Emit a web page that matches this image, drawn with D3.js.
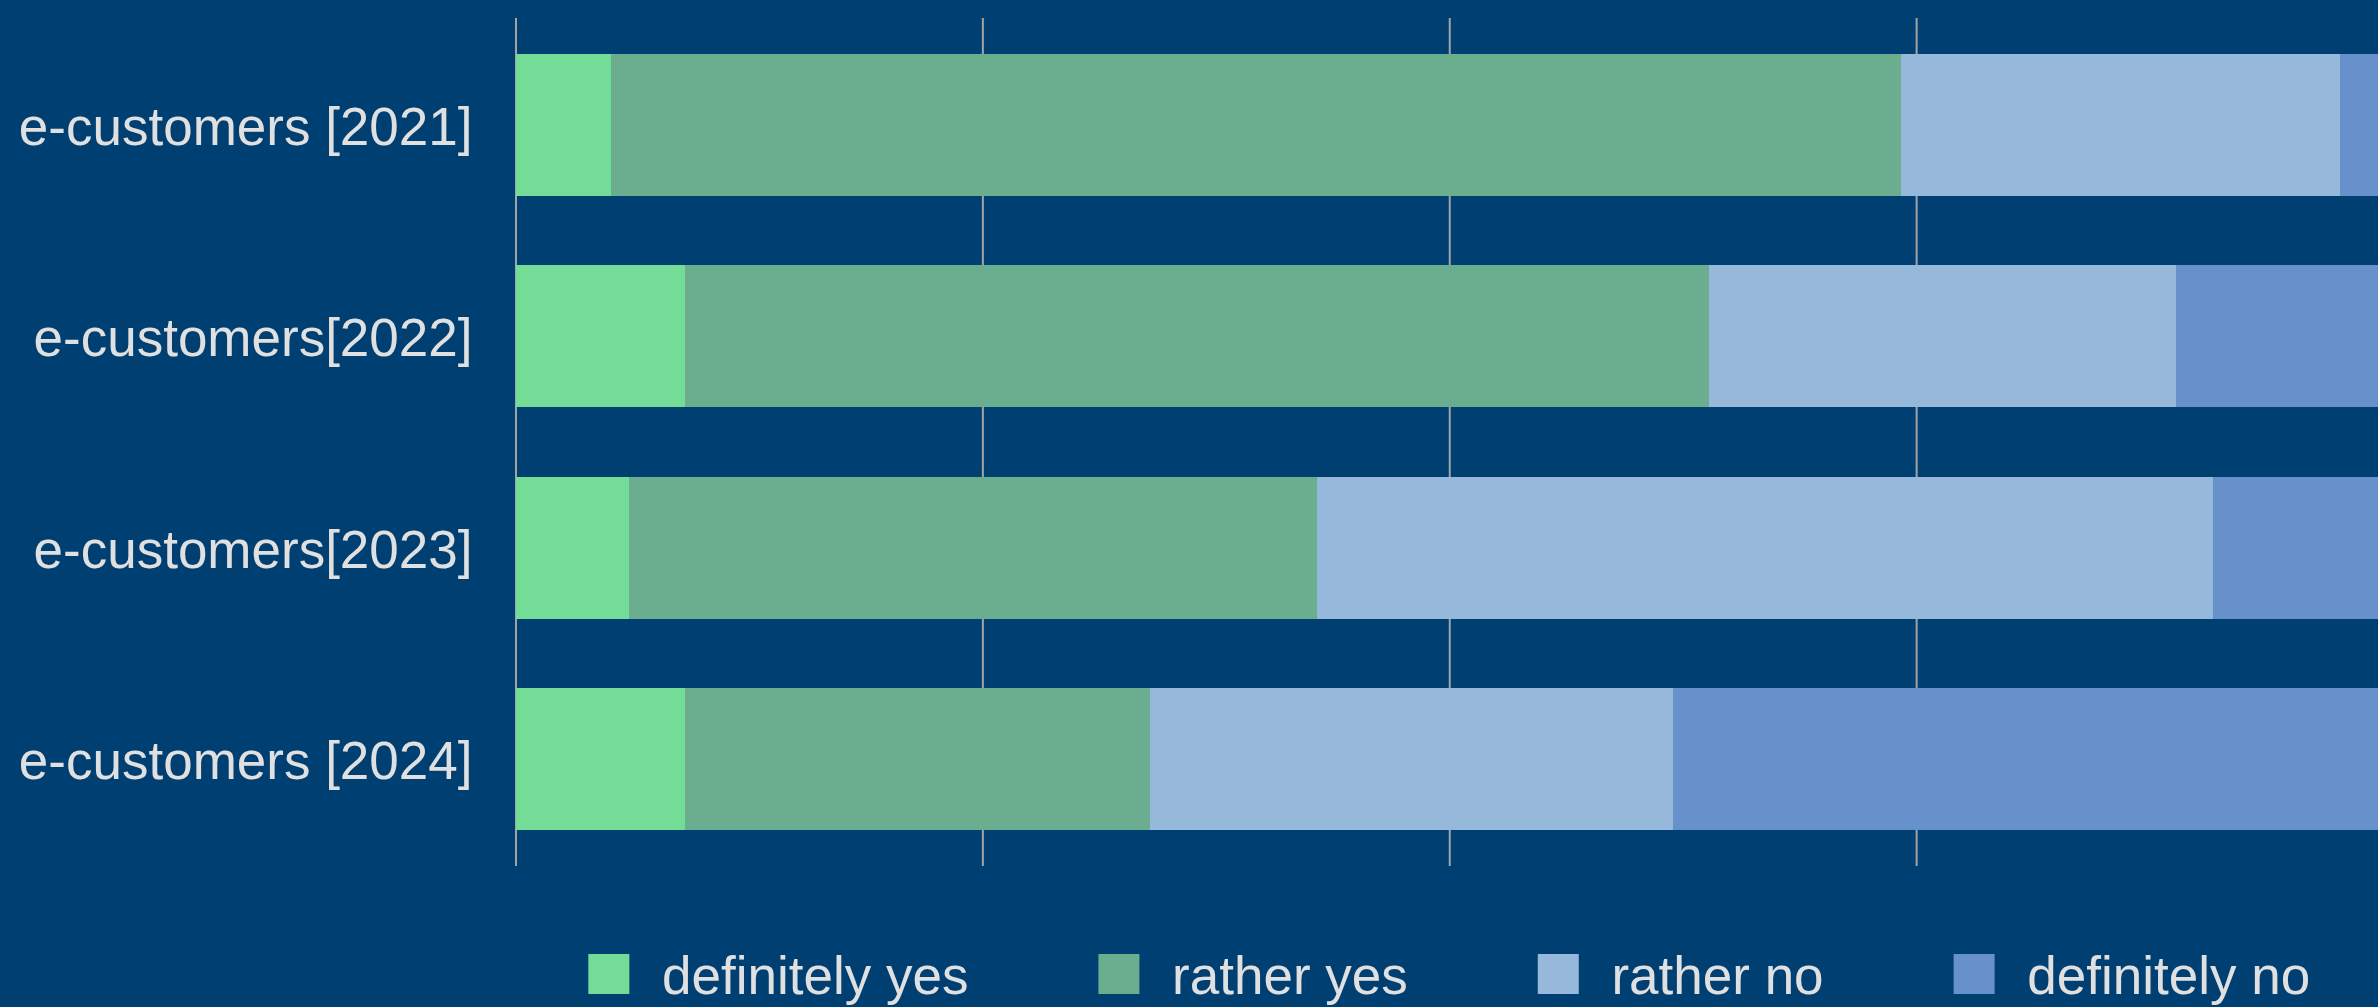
<!DOCTYPE html>
<html>
<head>
<meta charset="utf-8">
<script src="https://cdn.jsdelivr.net/npm/d3@7"></script>
<style>
  html, body { margin: 0; padding: 0; background: #003f72; overflow: hidden; }
  svg { display: block; }
  text { font-family: "Liberation Sans", Arial, Helvetica, sans-serif; }
</style>
</head>
<body>
<script>
const categories = ["e-customers [2021]", "e-customers[2022]", "e-customers[2023]", "e-customers [2024]"];
const seriesNames = ["definitely yes", "rather yes", "rather no", "definitely no"];
const definitelyYes = [5.1, 9.1, 6.1, 9.1];
const ratherYes = [69.1, 54.8, 36.8, 24.9];
const ratherNo = [23.5, 25.0, 48.0, 28.0];
const definitelyNo = [2.3, 11.1, 9.1, 38.0];
const tickValues = [0, 25, 50, 75, 100];
const colors = ["#73dd97", "#6bae8f", "#95b8db", "#6791ca"];

const W = 2378, H = 1007;
const svg = d3.select("body").append("svg").attr("width", W).attr("height", H);
svg.append("rect").attr("width", W).attr("height", H).attr("fill", "#003f72");

const plot = { left: 515.5, right: 2383, top: 18, bottom: 866 };
const x = d3.scaleLinear().domain([0, 100]).range([plot.left, plot.right]);
const y = d3.scaleBand().domain(categories).range([plot.top, plot.bottom])
  .paddingInner(0.33).paddingOuter(0.17);

// grid
const gridAxis = d3.axisBottom(x).tickValues(tickValues).tickFormat("")
  .tickSize(-(plot.bottom - plot.top)).tickSizeOuter(0);
const g = svg.append("g").attr("transform", `translate(0,${plot.bottom})`).call(gridAxis);
g.select(".domain").remove();
g.selectAll(".tick line").attr("stroke", "#a3a3a3").attr("stroke-width", 2);

// data table
const table = categories.map((c, i) => ({
  category: c,
  "definitely yes": definitelyYes[i],
  "rather yes": ratherYes[i],
  "rather no": ratherNo[i],
  "definitely no": definitelyNo[i]
}));
const stacked = d3.stack().keys(seriesNames)(table);

svg.append("g").attr("shape-rendering", "crispEdges")
  .selectAll("g").data(stacked).join("g")
  .attr("fill", (d, i) => colors[i])
  .selectAll("rect").data(d => d).join("rect")
  .attr("x", d => x(d[0]))
  .attr("y", d => y(d.data.category))
  .attr("width", d => x(d[1]) - x(d[0]))
  .attr("height", y.bandwidth());

// y labels
const yAxis = d3.axisLeft(y).tickSize(0).tickPadding(43);
const ya = svg.append("g").attr("transform", `translate(${plot.left},0)`).call(yAxis);
ya.select(".domain").remove();
ya.selectAll("text").attr("fill", "#e0e0e0").attr("dy", "0.38em").style("font-size", "53px")
  .style("font-family", '"Liberation Sans", Arial, sans-serif');

// legend
const legend = svg.append("g");
const items = legend.selectAll("g").data(seriesNames).join("g");
items.append("rect").attr("width", 41).attr("height", 40).attr("y", 954)
  .attr("fill", (d, i) => colors[i]);
items.append("text").text(d => d).attr("x", 73.7).attr("y", 994)
  .attr("fill", "#e0e0e0").style("font-size", "53px");
let offs = [], cur = 0;
items.each(function () {
  const tw = d3.select(this).select("text").node().getComputedTextLength();
  offs.push(cur);
  cur += 73.7 + tw + 130;
});
const total = cur - 130;
const startX = (plot.left + plot.right) / 2 - total / 2;
items.attr("transform", (d, i) => `translate(${startX + offs[i]},0)`);
</script>
</body>
</html>
